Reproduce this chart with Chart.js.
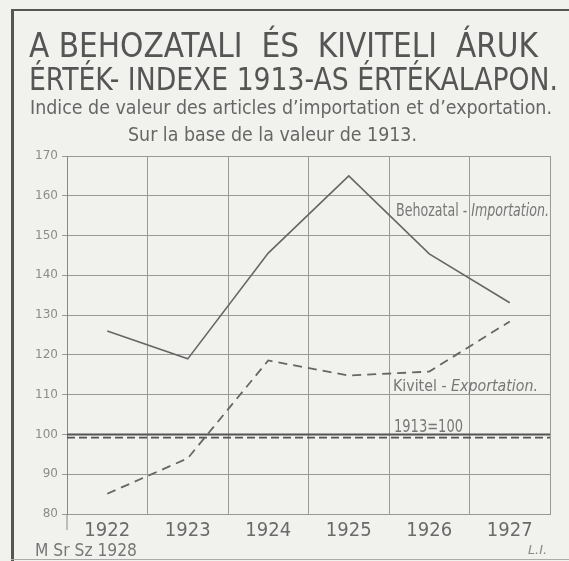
<!DOCTYPE html>
<html>
<head>
<meta charset="utf-8">
<script src="https://cdn.jsdelivr.net/npm/chart.js@4.4.0/dist/chart.umd.min.js"></script>
<style>
  html, body { margin: 0; padding: 0; background: #f1f1ed; }
  #wrap { position: relative; width: 569px; height: 561px; overflow: hidden; background: #f1f1ed; }
  canvas { position: absolute; left: 0; top: 0; }
  .txt { position: absolute; white-space: nowrap; line-height: 1; transform-origin: 0 0;
         font-family: 'Liberation Sans Narrow', 'DejaVu Sans Condensed', sans-serif; }
  .frame { position: absolute; background: #555; }
</style>
</head>
<body>
<div id="wrap">
  <canvas id="chart" width="569" height="561"></canvas>
  <div class="frame" style="left:11px; top:9px; width:3px; height:552px;"></div>
  <div class="frame" style="left:11px; top:9px; width:558px; height:2px;"></div>
  <div class="frame" style="left:11px; top:559px; width:558px; height:1px; background:#aaa;"></div>

  <div class="txt" id="t1" data-x0="29" data-x1="538" style="top:29px; font-size:33.5px; color:#555;">A BEHOZATALI&nbsp; ÉS&nbsp; KIVITELI&nbsp; ÁRUK</div>
  <div class="txt" id="t2" data-x0="29" data-x1="558" style="top:63px; font-size:32px; color:#555;">ÉRTÉK- INDEXE 1913-AS ÉRTÉKALAPON.</div>
  <div class="txt" id="t3" data-x0="30" data-x1="552" style="top:98px; font-size:19px; color:#666;">Indice de valeur des articles d’importation et d’exportation.</div>
  <div class="txt" id="t4" data-x0="128" data-x1="417" style="top:124.5px; font-size:19px; color:#666;">Sur la base de la valeur de 1913.</div>
  <div class="txt" id="t5" data-x0="35" data-x1="137" style="top:542px; font-size:17px; color:#777;">M Sr Sz 1928</div>
  <div class="txt" id="t6" data-x0="528" data-x1="547" style="top:543px; font-size:13px; font-style:italic; color:#888;">L.I.</div>
</div>
<script>
const years = ['1922', '1923', '1924', '1925', '1926', '1927'];
const importValues = [126, 119, 145.6, 165, 145.4, 133.1];
const exportValues = [85.1, 94, 118.6, 114.8, 115.8, 128.4];
const yMin = 80;
const yMax = 170;
const yStep = 10;
const baseValue = 100;
const baseDashedValue = 99.2;

const narrow = "'Liberation Sans Narrow', 'DejaVu Sans Condensed', sans-serif";
const ink = '#666';

// fit the heading lines to the width they take in the original
document.querySelectorAll('.txt').forEach(el => {
  const x0 = +el.dataset.x0, x1 = +el.dataset.x1;
  el.style.left = x0 + 'px';
  const w = el.getBoundingClientRect().width;
  el.style.transform = `scaleX(${(x1 - x0) / w})`;
});

// draw [text, font] pieces squeezed into a given width
function fitText(ctx, parts, x, y, width) {
  let total = 0;
  parts.forEach(([t, f]) => { ctx.font = f; total += ctx.measureText(t).width; });
  ctx.save();
  ctx.translate(x, y);
  ctx.scale(width / total, 1);
  let cx = 0;
  parts.forEach(([t, f]) => { ctx.font = f; ctx.fillText(t, cx, 0); cx += ctx.measureText(t).width; });
  ctx.restore();
}

const extras = {
  id: 'extras',
  afterDatasetsDraw(chart) {
    const { ctx, chartArea, scales: { x, y } } = chart;
    ctx.save();

    // 1913 = 100 reference lines
    ctx.strokeStyle = '#555';
    ctx.lineWidth = 2;
    ctx.beginPath();
    ctx.moveTo(chartArea.left, y.getPixelForValue(baseValue));
    ctx.lineTo(chartArea.right, y.getPixelForValue(baseValue));
    ctx.stroke();
    ctx.lineWidth = 1.6;
    ctx.setLineDash([8, 4]);
    ctx.beginPath();
    ctx.moveTo(chartArea.left, y.getPixelForValue(baseDashedValue));
    ctx.lineTo(chartArea.right, y.getPixelForValue(baseDashedValue));
    ctx.stroke();

    // left axis runs a bit below the frame
    ctx.setLineDash([]);
    ctx.strokeStyle = '#888';
    ctx.lineWidth = 1;
    ctx.beginPath();
    ctx.moveTo(chartArea.left, chartArea.bottom);
    ctx.lineTo(chartArea.left, chartArea.bottom + 16);
    ctx.stroke();

    // labels
    const lx = x.getPixelForValue(3.5);
    ctx.fillStyle = '#777';
    ctx.textBaseline = 'alphabetic';
    fitText(ctx, [['Behozatal - ', `17px ${narrow}`], ['Importation.', `italic 17px ${narrow}`]],
      lx + 7, y.getPixelForValue(155), 153);
    fitText(ctx, [['Kivitel - ', `16px ${narrow}`], ['Exportation.', `italic 16px ${narrow}`]],
      lx + 4, y.getPixelForValue(110.8), 145);
    fitText(ctx, [['1913=100', `17px ${narrow}`]],
      lx + 5, y.getPixelForValue(100.7), 69);
    ctx.restore();
  }
};

new Chart(document.getElementById('chart'), {
  type: 'line',
  data: {
    labels: years,
    datasets: [
      {
        label: 'Behozatal - Importation',
        data: importValues,
        borderColor: ink,
        borderWidth: 1.6,
        pointRadius: 0,
        tension: 0
      },
      {
        label: 'Kivitel - Exportation',
        data: exportValues,
        borderColor: ink,
        borderWidth: 1.8,
        borderDash: [9, 6],
        pointRadius: 0,
        tension: 0
      }
    ]
  },
  options: {
    responsive: false,
    animation: false,
    layout: { padding: { top: 156, right: 19, left: 0, bottom: 0 } },
    plugins: { legend: { display: false }, tooltip: { enabled: false } },
    scales: {
      x: {
        offset: true,
        grid: { offset: true, color: '#999', lineWidth: 1, drawTicks: false },
        border: { display: true, color: '#999' },
        ticks: { color: '#6a6a6a', font: { family: narrow, size: 20 }, padding: 5 },
        afterFit(scale) { scale.height = 47; }
      },
      y: {
        min: yMin,
        max: yMax,
        grid: { color: '#999', lineWidth: 1, tickLength: 5 },
        border: { display: true, color: '#888' },
        ticks: { stepSize: yStep, color: '#8c8c8c', font: { family: "'DejaVu Sans', sans-serif", size: 12 }, padding: 4 },
        afterFit(scale) { scale.width = 67; }
      }
    }
  },
  plugins: [extras]
});
</script>
</body>
</html>
